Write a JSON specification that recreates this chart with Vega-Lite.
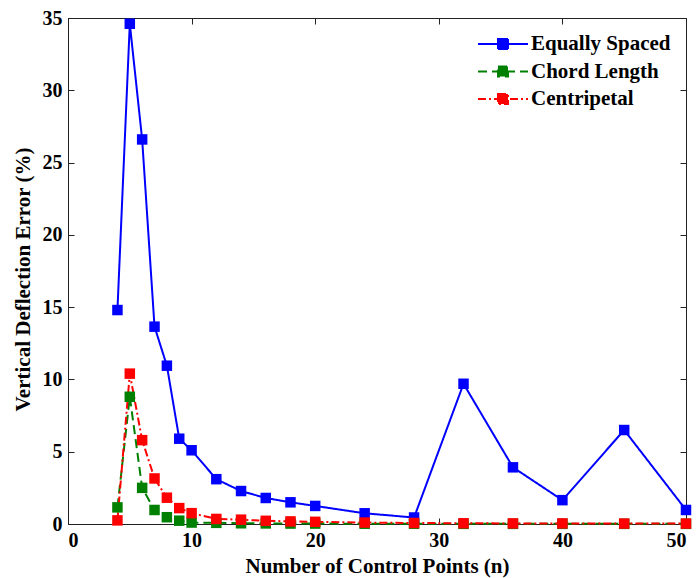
{
  "$schema": "https://vega.github.io/schema/vega-lite/v6.json",
  "width": 618,
  "height": 506,
  "autosize": "none",
  "padding": {"left": 68, "top": 18, "right": 11, "bottom": 54},
  "background": "white",
  "config": {
    "view": {"stroke": "#222", "strokeWidth": 1},
    "font": "Times New Roman",
    "axis": {
      "labelFont": "Times New Roman", "labelFontWeight": "bold", "labelFontSize": 20, "labelColor": "black",
      "titleFont": "Times New Roman", "titleFontWeight": "bold", "titleFontSize": 21, "titleColor": "black",
      "grid": false, "domainColor": "#222", "tickColor": "#222", "tickSize": -6, "tickWidth": 1
    }
  },
  "data": {"values": [
    {"n": 4, "error": 14.8, "method": "Equally Spaced"},
    {"n": 5, "error": 34.6, "method": "Equally Spaced"},
    {"n": 6, "error": 26.6, "method": "Equally Spaced"},
    {"n": 7, "error": 13.65, "method": "Equally Spaced"},
    {"n": 8, "error": 10.95, "method": "Equally Spaced"},
    {"n": 9, "error": 5.9, "method": "Equally Spaced"},
    {"n": 10, "error": 5.1, "method": "Equally Spaced"},
    {"n": 12, "error": 3.1, "method": "Equally Spaced"},
    {"n": 14, "error": 2.28, "method": "Equally Spaced"},
    {"n": 16, "error": 1.8, "method": "Equally Spaced"},
    {"n": 18, "error": 1.5, "method": "Equally Spaced"},
    {"n": 20, "error": 1.25, "method": "Equally Spaced"},
    {"n": 24, "error": 0.74, "method": "Equally Spaced"},
    {"n": 28, "error": 0.45, "method": "Equally Spaced"},
    {"n": 32, "error": 9.7, "method": "Equally Spaced"},
    {"n": 36, "error": 3.92, "method": "Equally Spaced"},
    {"n": 40, "error": 1.65, "method": "Equally Spaced"},
    {"n": 45, "error": 6.5, "method": "Equally Spaced"},
    {"n": 50, "error": 0.97, "method": "Equally Spaced"},
    {"n": 4, "error": 1.15, "method": "Chord Length"},
    {"n": 5, "error": 8.8, "method": "Chord Length"},
    {"n": 6, "error": 2.5, "method": "Chord Length"},
    {"n": 7, "error": 0.97, "method": "Chord Length"},
    {"n": 8, "error": 0.47, "method": "Chord Length"},
    {"n": 9, "error": 0.23, "method": "Chord Length"},
    {"n": 10, "error": 0.1, "method": "Chord Length"},
    {"n": 12, "error": 0.08, "method": "Chord Length"},
    {"n": 14, "error": 0.05, "method": "Chord Length"},
    {"n": 16, "error": 0.04, "method": "Chord Length"},
    {"n": 18, "error": 0.03, "method": "Chord Length"},
    {"n": 20, "error": 0.03, "method": "Chord Length"},
    {"n": 24, "error": 0.02, "method": "Chord Length"},
    {"n": 28, "error": 0.02, "method": "Chord Length"},
    {"n": 32, "error": 0.01, "method": "Chord Length"},
    {"n": 36, "error": 0.01, "method": "Chord Length"},
    {"n": 40, "error": 0.01, "method": "Chord Length"},
    {"n": 45, "error": 0.01, "method": "Chord Length"},
    {"n": 50, "error": 0.01, "method": "Chord Length"},
    {"n": 4, "error": 0.25, "method": "Centripetal"},
    {"n": 5, "error": 10.4, "method": "Centripetal"},
    {"n": 6, "error": 5.8, "method": "Centripetal"},
    {"n": 7, "error": 3.15, "method": "Centripetal"},
    {"n": 8, "error": 1.82, "method": "Centripetal"},
    {"n": 9, "error": 1.1, "method": "Centripetal"},
    {"n": 10, "error": 0.75, "method": "Centripetal"},
    {"n": 12, "error": 0.35, "method": "Centripetal"},
    {"n": 14, "error": 0.3, "method": "Centripetal"},
    {"n": 16, "error": 0.22, "method": "Centripetal"},
    {"n": 18, "error": 0.18, "method": "Centripetal"},
    {"n": 20, "error": 0.15, "method": "Centripetal"},
    {"n": 24, "error": 0.1, "method": "Centripetal"},
    {"n": 28, "error": 0.07, "method": "Centripetal"},
    {"n": 32, "error": 0.05, "method": "Centripetal"},
    {"n": 36, "error": 0.04, "method": "Centripetal"},
    {"n": 40, "error": 0.04, "method": "Centripetal"},
    {"n": 45, "error": 0.03, "method": "Centripetal"},
    {"n": 50, "error": 0.03, "method": "Centripetal"}
  ]},
  "layer": [
    {
      "mark": {"type": "line", "strokeWidth": 2, "clip": false, "point": {"shape": "square", "size": 110, "filled": true, "opacity": 1}},
      "encoding": {
        "x": {"field": "n", "type": "quantitative", "scale": {"domain": [0, 50], "nice": false}, "axis": {"values": [0, 10, 20, 30, 40, 50], "title": "Number of Control Points (n)", "labelPadding": 12, "titlePadding": 5}},
        "y": {"field": "error", "type": "quantitative", "scale": {"domain": [0, 35], "nice": false}, "axis": {"values": [0, 5, 10, 15, 20, 25, 30, 35], "title": "Vertical Deflection Error (%)", "labelPadding": 12, "titlePadding": 9, "titleY": 261}},
        "color": {"field": "method", "type": "nominal", "sort": ["Equally Spaced", "Chord Length", "Centripetal"],
          "scale": {"domain": ["Equally Spaced", "Chord Length", "Centripetal"], "range": ["#0000FF", "#008000", "#FF0000"]},
          "legend": {"orient": "none", "legendX": 424, "legendY": 15, "title": null, "labelFont": "Times New Roman", "labelFontWeight": "bold", "labelFontSize": 21, "labelColor": "black", "symbolStrokeWidth": 2, "symbolSize": 400, "symbolType": "M-2.5,0H2.5M-0.5,-0.5H0.5V0.5H-0.5Z", "rowPadding": 6.5, "labelOffset": 17,
            "encode": {"symbols": {"update": {"fill": {"scale": "color", "field": "value"}, "fillOpacity": {"value": 1}}}}}},
        "strokeDash": {"field": "method", "type": "nominal", "sort": ["Equally Spaced", "Chord Length", "Centripetal"],
          "scale": {"domain": ["Equally Spaced", "Chord Length", "Centripetal"], "range": [[1, 0], [9, 5], [8, 3, 2, 3]]},
          "legend": {"orient": "none", "legendX": 424, "legendY": 15, "title": null}},
        "order": {"field": "n", "type": "quantitative"}
      }
    },
    {
      "mark": {"type": "point", "opacity": 0},
      "encoding": {
        "x": {"field": "n", "type": "quantitative", "axis": {"orient": "top", "values": [0, 10, 20, 30, 40, 50], "labels": false, "title": null}},
        "y": {"field": "error", "type": "quantitative", "axis": {"orient": "right", "values": [0, 5, 10, 15, 20, 25, 30, 35], "labels": false, "title": null}}
      }
    }
  ],
  "resolve": {"axis": {"x": "independent", "y": "independent"}}
}
